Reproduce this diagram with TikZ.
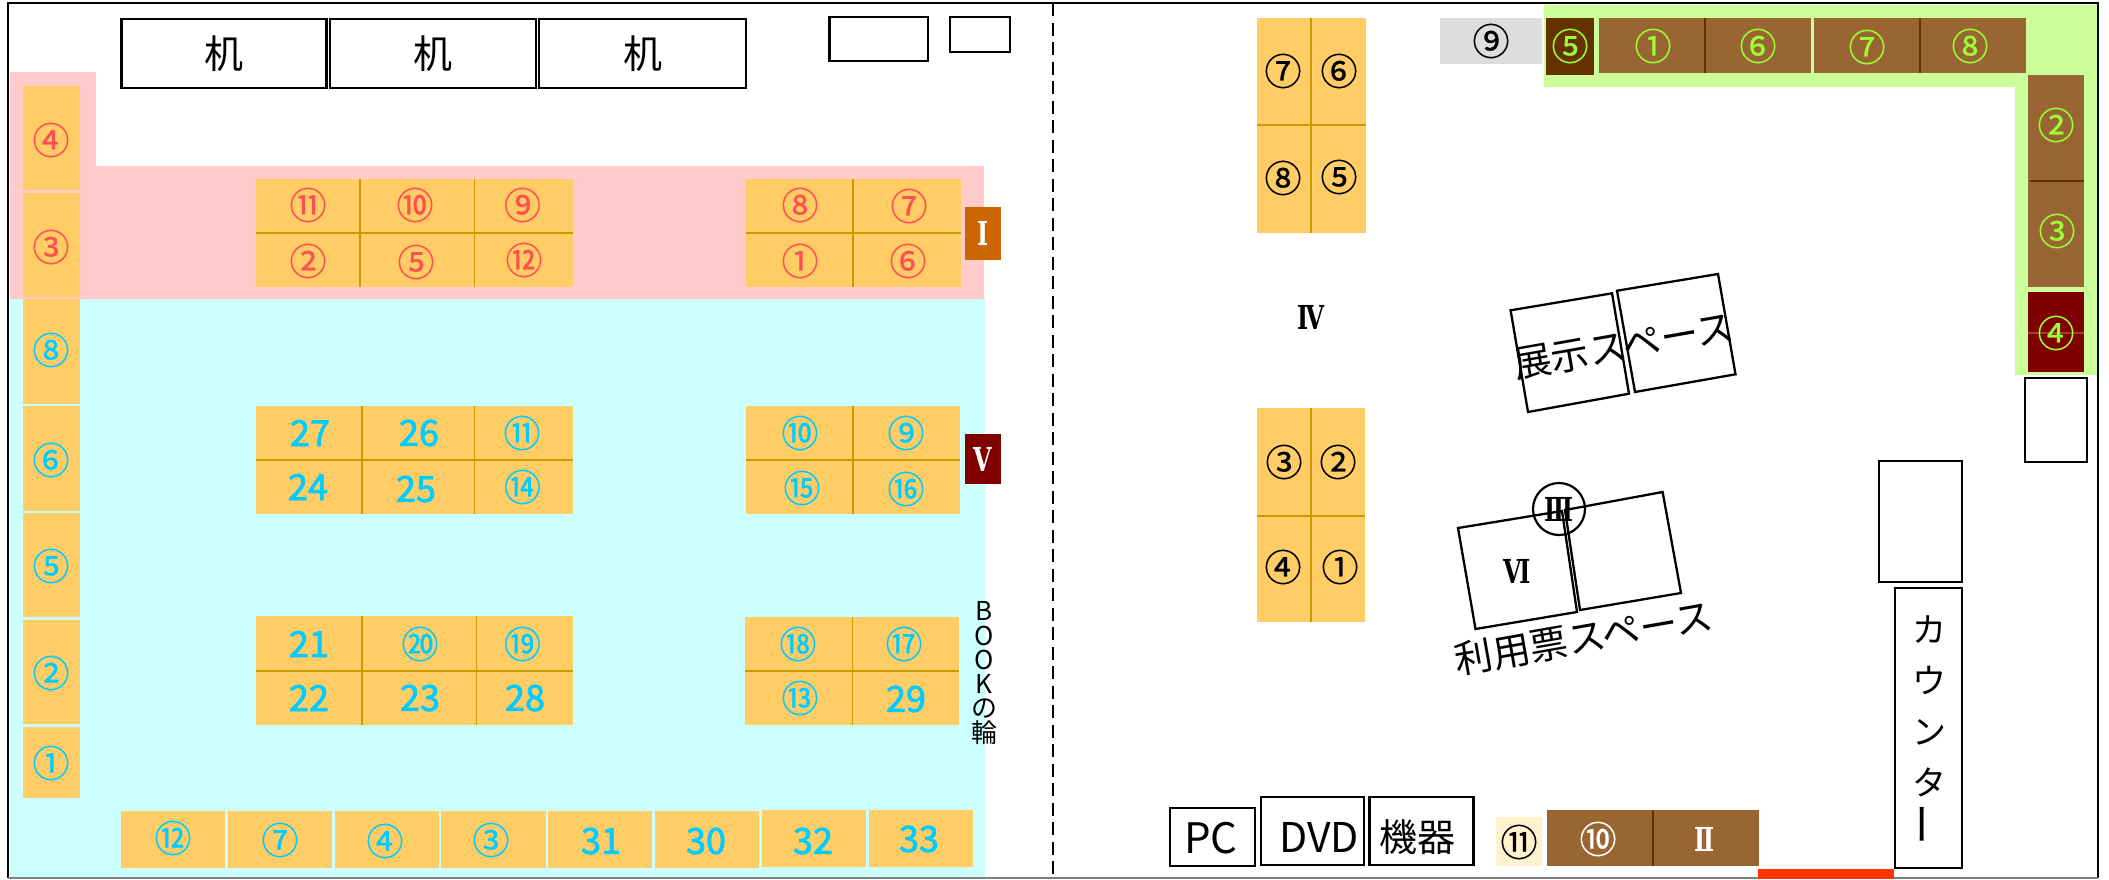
\documentclass[tikz,border=0pt]{standalone}
\usepackage{fontspec}
\usepackage{graphicx}
\setmainfont{Noto Sans CJK JP}
\newfontfamily\circfont[FakeBold=0.7]{Noto Sans CJK JP}
\newfontfamily\numfont[FakeBold=2.2]{Noto Sans CJK JP}
\newfontfamily\romanfont[FakeStretch=0.72]{DejaVu Serif}
\setlength\lineskiplimit{-60pt}
\definecolor{tbl}{HTML}{FFCC66}
\definecolor{tdiv}{HTML}{CC9900}
\definecolor{pinkz}{HTML}{FFCCCC}
\definecolor{cyanz}{HTML}{CCFFFF}
\definecolor{greenz}{HTML}{CCFF99}
\definecolor{ptext}{HTML}{FF5050}
\definecolor{ctext}{HTML}{00CCFF}
\definecolor{gtext}{HTML}{99FF33}
\definecolor{brn}{HTML}{996633}
\definecolor{dbrn}{HTML}{663300}
\definecolor{maroonz}{HTML}{800000}
\definecolor{orng}{HTML}{CC6600}
\definecolor{greyz}{HTML}{DDDDDD}
\definecolor{creamz}{HTML}{FFF2CC}
\definecolor{redz}{HTML}{FF3300}
\tikzset{
  thindiv/.style={draw=tdiv,line width=1.6pt},
  thickdiv/.style={draw=tdiv,line width=2.8pt},
  browndiv/.style={draw=dbrn,line width=1.6pt},
  outline/.style={draw=black,line width=2.3pt,fill=white},
  tilted/.style={draw=black,line width=2.3pt},
  numlab/.style={inner sep=0pt,font=\circfont\fontsize{37}{37}\selectfont},
  pinklab/.style={numlab,text=ptext},
  cyanlab/.style={numlab,text=ctext},
  cyannum/.style={inner sep=0pt,text=ctext,font=\numfont\fontsize{36}{36}\selectfont},
  greenlab/.style={numlab,text=gtext},
  blacklab/.style={numlab,text=black},
  whitelab/.style={numlab,text=white},
  romanfnt/.style={font=\romanfont\bfseries\fontsize{33}{33}\selectfont},
  roman/.style={inner sep=0pt,romanfnt},
  tiltlab/.style={inner sep=0pt,text=black,font=\fontsize{38}{38}\selectfont},
  boxlab/.style={inner sep=0pt,text=black},
}
\begin{document}
\begin{tikzpicture}[x=1pt,y=-1pt]
\useasboundingbox (0,0) rectangle (2109,879);
% zones
\fill[cyanz] (10,299) rectangle (985,878);
\fill[pinkz] (10,72) -- (96,72) -- (96,166) -- (984,166) -- (984,299) -- (10,299) -- cycle;
\fill[greenz] (1544,5) -- (2098,5) -- (2098,375) -- (2015,375) -- (2015,87) -- (1544,87) -- cycle;
% frame
\draw[black,line width=2.2pt] (8,878) -- (8,3) -- (2098,3) -- (2098,878);
\draw[gray,line width=1.4pt] (8,878) -- (2098,878);
\draw[black,line width=2pt,dash pattern=on 13pt off 6.5pt] (1053,3) -- (1053,878);
% left column shelves
\foreach \a/\b in {86/190,193/297,299/404,406/511,513/617,620/724,727/798}
  \fill[tbl] (23,\a) rectangle (80,\b);
% bottom row shelves
\foreach \a/\b/\t/\u in {121/225/811/868,228/332/811/868,335/439/811/868,441/546/811/868,548/652/811/868,655/759/811/868,762/866/810/867,869/973/810/867}
  \fill[tbl] (\a,\t) rectangle (\b,\u);
% desks
\node[outline,minimum width=205pt,minimum height=69pt,inner sep=0pt,font=\fontsize{39}{39}\selectfont] (d1) at (224,53.5) {机};
\node[outline,minimum width=206pt,minimum height=69pt,inner sep=0pt,font=\fontsize{39}{39}\selectfont] (d2) at (433,53.5) {机};
\node[outline,minimum width=207pt,minimum height=69pt,inner sep=0pt,font=\fontsize{39}{39}\selectfont] (d3) at (642.5,53.5) {机};
\draw[outline] (829.5,17) rectangle (928,61);
\draw[outline] (950,17) rectangle (1010,52);
% tables left
\fill[tbl] (256,179) rectangle (573,287);
\draw[thindiv] (360,179) -- (360,287) (474.5,179) -- (474.5,287);
\draw[thickdiv] (256,233) -- (573,233);
\fill[tbl] (746,179) rectangle (960.5,287);
\draw[thindiv] (853,179) -- (853,287);
\draw[thickdiv] (746,233) -- (960.5,233);
\fill[tbl] (256,406) rectangle (573,514);
\draw[thindiv] (362,406) -- (362,514) (474.5,406) -- (474.5,514);
\draw[thickdiv] (256,460) -- (573,460);
\fill[tbl] (746,406) rectangle (960,514);
\draw[thindiv] (853,406) -- (853,514);
\draw[thickdiv] (746,460) -- (960,460);
\fill[tbl] (256,616) rectangle (573,725);
\draw[thindiv] (362,616) -- (362,725) (476.5,616) -- (476.5,725);
\draw[thickdiv] (256,671) -- (573,671);
\fill[tbl] (745,617) rectangle (959,725);
\draw[thindiv] (852.5,617) -- (852.5,725);
\draw[thickdiv] (745,671) -- (959,671);
% labels pink
\foreach \x/\y/\t [count=\i] in {51/140/④,51/247/③,308/205/⑪,415/205/⑩,522.5/205/⑨,308/261/②,416/262/⑤,524/260/⑫,800/205/⑧,909/206/⑦,800/261/①,908/261/⑥}
  \node[pinklab] (p\i) at (\x,\y) {\t};
% labels cyan circled
\foreach \x/\y/\t [count=\i] in {51/350/⑧,51/460/⑥,51/566/⑤,51/673/②,51/763/①,522/433/⑪,522.5/487/⑭,800/433/⑩,906/433/⑨,802/488/⑮,906/489/⑯,420/644/⑳,522.5/644/⑲,798/644/⑱,904/644/⑰,800/698/⑬,173/838/⑫,280/840/⑦,385/841/④,491/840/③}
  \node[cyanlab] (c\i) at (\x,\y) {\t};
% labels cyan plain
\foreach \x/\y/\t [count=\i] in {310/433/27,419/433/26,308/487/24,416/489/25,309/644/21,309/698/22,420/698/23,525/698/28,906/699/29,601/841/31,706/841/30,813/841/32,919/839/33}
  \node[cyannum] (n\i) at (\x,\y) {\t};
% badges
\node[fill=orng,text=white,minimum width=36pt,minimum height=53pt,inner sep=0pt,romanfnt] (b1) at (983,233.5) {Ⅰ};
\node[fill=maroonz,text=white,minimum width=36pt,minimum height=50pt,inner sep=0pt,romanfnt] (b5) at (983,459) {Ⅴ};
\node[inner sep=0pt,align=center,font=\fontsize{26}{24.3}\selectfont] (book) at (984,673) {B\\O\\O\\K\\の\\輪};
% right tables
\fill[tbl] (1257,18) rectangle (1366,233);
\draw[thindiv] (1311,18) -- (1311,233);
\draw[thickdiv] (1257,125) -- (1366,125);
\fill[tbl] (1257,408) rectangle (1365,622);
\draw[thindiv] (1311,408) -- (1311,622);
\draw[thickdiv] (1257,516) -- (1365,516);
\foreach \x/\y/\t [count=\i] in {1283/71/⑦,1339/71/⑥,1283/178/⑧,1339/177/⑤,1284/462/③,1338/462/②,1283/567/④,1340/567/①}
  \node[blacklab] (k\i) at (\x,\y) {\t};
\node[roman] (r4) at (1311,317) {Ⅳ};
% top right shelves
\fill[greyz] (1440,18) rectangle (1542,64);
\node[blacklab] (k9) at (1491,41) {⑨};
\fill[dbrn] (1546,18) rectangle (1594,75);
\fill[brn] (1599,18) rectangle (1811,73);
\fill[brn] (1814,18) rectangle (2026,73);
\draw[browndiv] (1705,18) -- (1705,73) (1920,18) -- (1920,73);
\fill[brn] (2028,75) rectangle (2084,287);
\draw[browndiv,line width=2.4pt] (2030,181) -- (2084,181);
\fill[maroonz] (2028,292) rectangle (2084,372);
\draw[brn!70!maroonz,line width=1.4pt] (2028,333) -- (2084,333);
\foreach \x/\y/\t [count=\i] in {1570/46/⑤,1653/46/①,1758/46/⑥,1867/47/⑦,1970/46/⑧,2056/125/②,2057/231/③,2056/333/④}
  \node[greenlab] (g\i) at (\x,\y) {\t};
\draw[outline] (2025,378) rectangle (2087,462);
% display space
\draw[tilted] (1510.6,310.3) -- (1612,293.3) -- (1629,393.7) -- (1528,412) -- cycle;
\draw[tilted] (1617,290.7) -- (1718,274) -- (1735.5,374.3) -- (1635,392) -- cycle;
\node[tiltlab,rotate=10] (ten) at (1624,346) {展示スペース};
% ticket space
\draw[tilted] (1458,528) -- (1562,511) -- (1577,612) -- (1475.5,629) -- cycle;
\draw[tilted] (1565,510) -- (1662.6,492) -- (1681,593) -- (1580,610) -- cycle;
\node[draw=black,line width=2.2pt,circle,minimum size=52pt,inner sep=0pt,romanfnt] (r3) at (1559,509) {Ⅲ};
\node[roman] (r6) at (1517,571) {Ⅵ};
\node[tiltlab,rotate=10] (riyo) at (1584,638) {利用票スペース};
% counter side
\draw[outline] (1879,461) rectangle (1962,582);
\draw[outline] (1895,588) rectangle (1962,868);
\node[inner sep=0pt,align=center,font=\fontsize{34}{50.7}\selectfont] (ctr) at (1929,731) {カ\\ウ\\ン\\タ\\\rotatebox{90}{\scalebox{1.25}{ー}}};
% bottom machines
\draw[outline] (1170,808) rectangle (1255,866);
\draw[outline] (1261,797) rectangle (1364,865);
\draw[outline] (1369.5,797) rectangle (1473.5,865);
\node[boxlab,font=\fontsize{42}{42}\selectfont] (pc) at (1211,838) {PC};
\node[boxlab,font=\fontsize{41}{41}\selectfont] (dvd) at (1319,837) {DVD};
\node[boxlab,font=\fontsize{38}{38}\selectfont] (kiki) at (1417,837) {機器};
\fill[creamz] (1496,817) rectangle (1542,866);
\node[blacklab] (k11) at (1519,842) {⑪};
\fill[brn] (1546.5,810) rectangle (1758.5,866);
\draw[browndiv] (1653,810) -- (1653,866);
\node[whitelab] (w10) at (1598,839) {⑩};
\node[roman,text=white] (r2) at (1704.5,839) {Ⅱ};
\fill[redz] (1758,869) rectangle (1893.5,879);
\end{tikzpicture}
\end{document}
